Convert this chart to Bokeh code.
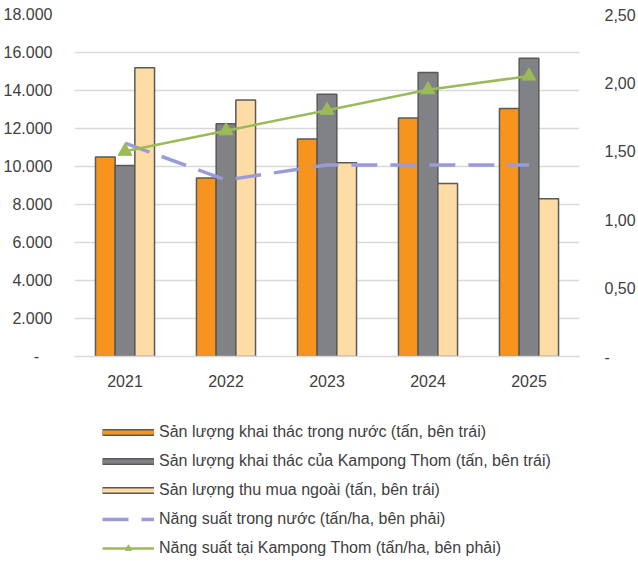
from bokeh.plotting import figure
from bokeh.layouts import column
from bokeh.models import (ColumnDataSource, FactorRange, Range1d, LinearAxis, FixedTicker,
                          CustomJSTickFormatter, Legend, LegendItem)
from bokeh.transform import dodge
from bokeh.embed import file_html
from bokeh.resources import INLINE

# --- data -------------------------------------------------------------------
years = ["2021", "2022", "2023", "2024", "2025"]
domestic_output = [10500, 9400, 11450, 12550, 13050]      # tấn
kampong_output = [10050, 12250, 13800, 14950, 15700]      # tấn
purchased_output = [15200, 13500, 10200, 9100, 8300]      # tấn
domestic_yield = [1.56, 1.29, 1.40, 1.40, 1.40]           # tấn/ha
kampong_yield = [1.50, 1.65, 1.80, 1.95, 2.05]            # tấn/ha

left_ticks = list(range(0, 18001, 2000))
right_ticks = [0, 0.5, 1.0, 1.5, 2.0, 2.5]

labels = [
    "Sản lượng khai thác trong nước (tấn, bên trái)",
    "Sản lượng khai thác của Kampong Thom (tấn, bên trái)",
    "Sản lượng thu mua ngoài (tấn, bên trái)",
    "Năng suất trong nước (tấn/ha, bên phải)",
    "Năng suất tại Kampong Thom (tấn/ha, bên phải)",
]

ORANGE = "#f7941d"
GREY = "#808285"
CREAM = "#fddca5"
OUTLINE = "#595959"
PURPLE = "#9b9bd7"
GREEN = "#9bbb59"
TEXT = "#404040"
FONT = "Liberation Sans"

src = ColumnDataSource(dict(
    year=years,
    domestic=domestic_output,
    kampong=kampong_output,
    purchased=purchased_output,
    dyield=domestic_yield,
    kyield=kampong_yield,
))

p = figure(
    width=638, height=400,
    x_range=FactorRange(*years, range_padding=0),
    y_range=Range1d(0, 18000),
    output_backend="svg", toolbar_location=None,
    min_border_left=73, min_border_right=52, min_border_top=14, min_border_bottom=44,
    outline_line_color=None,
)
p.extra_y_ranges = {"right": Range1d(0, 2.5)}

# --- bars -------------------------------------------------------------------
bw = 0.195
for field, off, color in [("domestic", -bw, ORANGE), ("kampong", 0.0, GREY), ("purchased", bw, CREAM)]:
    p.vbar(x=dodge("year", off, range=p.x_range), top=field, width=bw, source=src,
           fill_color=color, line_color=OUTLINE, line_width=1.5)

# --- yield lines (right axis) -----------------------------------------------
p.line(x="year", y="dyield", source=src, y_range_name="right",
       line_color=PURPLE, line_width=3.5, line_dash="26 13")
p.line(x="year", y="kyield", source=src, y_range_name="right",
       line_color=GREEN, line_width=2.5)
p.scatter(x="year", y="kyield", source=src, y_range_name="right",
          marker="triangle", size=14, fill_color=GREEN, line_color=GREEN)

# --- axes -------------------------------------------------------------------
p.xgrid.grid_line_color = None
p.ygrid.ticker = FixedTicker(ticks=left_ticks)
p.ygrid.grid_line_color = "#d9d9d9"
p.ygrid.grid_line_width = 1.5

xa = p.xaxis[0]
xa.axis_line_color = "#d9d9d9"
xa.axis_line_width = 1.5
xa.major_tick_line_color = None
xa.minor_tick_line_color = None
xa.major_label_standoff = 12
xa.major_label_text_font = FONT
xa.major_label_text_font_size = "16px"
xa.major_label_text_color = TEXT

ya = p.yaxis[0]
ya.ticker = FixedTicker(ticks=left_ticks)
ya.formatter = CustomJSTickFormatter(code="""
    if (tick == 0) { return '-\u00a0\u00a0\u00a0'; }
    return Math.round(tick).toString().replace(/\\B(?=(\\d{3})+(?!\\d))/g, '.');
""")
ya.axis_line_color = None
ya.major_tick_line_color = None
ya.minor_tick_line_color = None
ya.major_label_standoff = 16
ya.major_label_text_font = FONT
ya.major_label_text_font_size = "16px"
ya.major_label_text_color = TEXT

ra = LinearAxis(y_range_name="right", ticker=FixedTicker(ticks=right_ticks))
ra.formatter = CustomJSTickFormatter(code="""
    if (tick == 0) { return '-'; }
    return tick.toFixed(2).replace('.', ',');
""")
ra.axis_line_color = None
ra.major_tick_line_color = None
ra.minor_tick_line_color = None
ra.major_label_standoff = 19
ra.major_label_text_font = FONT
ra.major_label_text_font_size = "16px"
ra.major_label_text_color = TEXT
p.add_layout(ra, "right")

# --- legend panel under the chart ---------------------------------------------
lg = figure(
    width=638, height=163, x_range=Range1d(0, 1), y_range=Range1d(0, 1),
    output_backend="svg", toolbar_location=None,
    x_axis_type=None, y_axis_type=None, outline_line_color=None,
    min_border_left=0, min_border_right=0, min_border_top=0, min_border_bottom=0,
)
lg.grid.visible = False
# one off-screen point so the swatch renderers have styles to draw with
offscreen = ColumnDataSource(dict(x=[-10], y=[-10]))


def bar_swatch(color):
    edge = lg.line(x="x", y="y", source=offscreen, line_color=OUTLINE, line_width=7)
    fill = lg.line(x="x", y="y", source=offscreen, line_color=color, line_width=4)
    return [edge, fill]


swatch_purple = lg.line(x="x", y="y", source=offscreen, line_color=PURPLE,
                        line_width=3.5, line_dash="26 13")
swatch_green = lg.line(x="x", y="y", source=offscreen, line_color=GREEN, line_width=2.5)
swatch_tri = lg.scatter(x="x", y="y", source=offscreen, marker="triangle",
                        fill_color=GREEN, line_color=GREEN)

items = [
    LegendItem(label=labels[0], renderers=bar_swatch(ORANGE)),
    LegendItem(label=labels[1], renderers=bar_swatch(GREY)),
    LegendItem(label=labels[2], renderers=bar_swatch(CREAM)),
    LegendItem(label=labels[3], renderers=[swatch_purple]),
    LegendItem(label=labels[4], renderers=[swatch_green, swatch_tri]),
]
legend = Legend(
    items=items, location=(28, 5), margin=0, padding=0, spacing=9,
    glyph_width=52, glyph_height=16, label_height=20, label_standoff=5,
    label_text_font=FONT, label_text_font_size="16px", label_text_color=TEXT,
    border_line_color=None, background_fill_alpha=0,
)
lg.add_layout(legend, "center")

open("out.html", "w").write(file_html(column(p, lg, spacing=0), INLINE))
